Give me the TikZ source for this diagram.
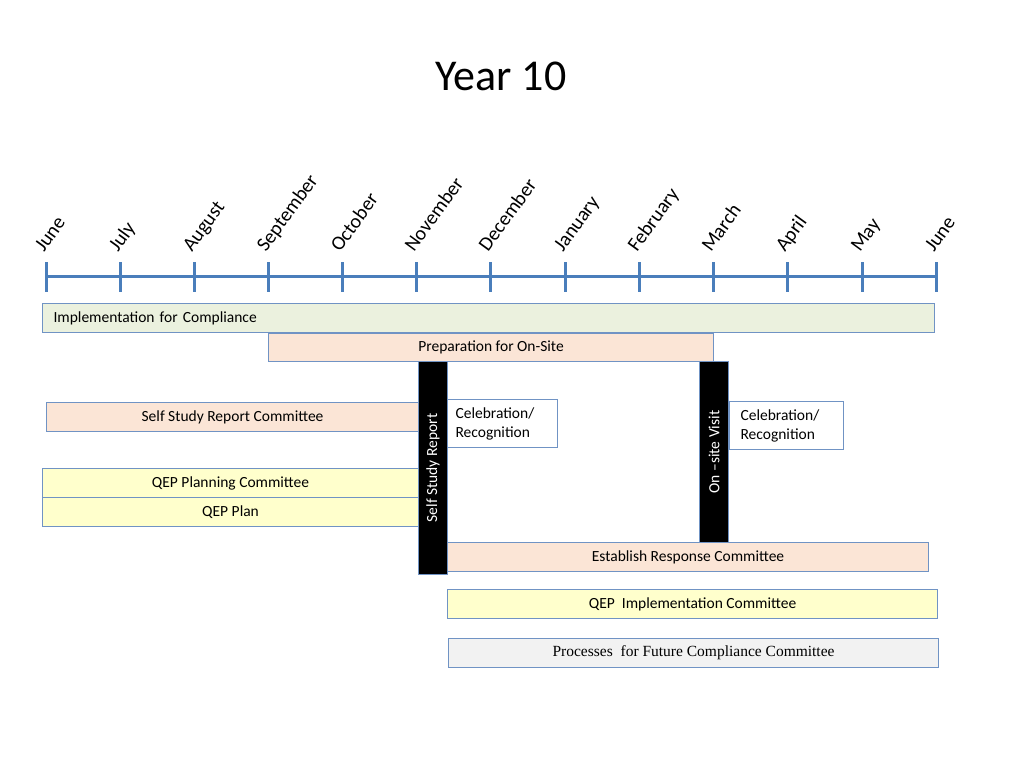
\documentclass[tikz,border=0pt]{standalone}
\usepackage{fontspec}
\setmainfont{Carlito}
\newfontfamily\timesfont{Liberation Serif}
\definecolor{tlblue}{HTML}{4A7EBB}
\definecolor{bdblue}{HTML}{7093C4}
\definecolor{fgreen}{HTML}{EBF1DE}
\definecolor{fpeach}{HTML}{FBE5D6}
\definecolor{fyellow}{HTML}{FFFFCC}
\definecolor{fgrey}{HTML}{F2F2F2}
\begin{document}
\begin{tikzpicture}[x=1pt,y=-1pt,
  tl/.style={draw=tlblue,line width=3pt},
  month/.style={rotate=54,anchor=base west,inner sep=0pt,font=\fontsize{20}{22}\selectfont},
  bar/.style={draw=bdblue,line width=1.1pt,inner sep=0pt,anchor=north west,minimum height=29pt,font=\fontsize{15.5}{18}\selectfont},
  blackbar/.style={draw=bdblue,fill=black,line width=1pt,inner sep=0pt,anchor=north west,minimum width=29pt},
  vtext/.style={rotate=90,text=white,inner sep=0pt,font=\fontsize{15.5}{18}\selectfont},
  celeb/.style={draw=bdblue,fill=white,line width=1.1pt,anchor=north west,align=left,inner ysep=0pt,font=\fontsize{15.5}{19}\selectfont}
]
\useasboundingbox (0,0) rectangle (1024,768);
\fill[white] (0,0) rectangle (1024,768);
% title
\node[font=\fontsize{44}{48}\selectfont] (title) at (501,76) {Year 10};
% timeline
\coordinate (t0) at (46,276);
\coordinate (t12) at (936,276);
\draw[tl] (t0) -- (t12);
\foreach \i/\x/\m in {0/46/June,1/120/July,2/194/August,3/268/September,4/342/October,5/416/November,6/490/December,7/565/January,8/639/February,9/713/March,10/787/April,11/862/May,12/936/June}{
  \draw[tl] (\x,262) -- (\x,292);
  \node[month] (m\i) at (\x-2,253) {\m};
}
% bars
\node[bar,fill=fgreen,minimum width=892pt,text width=870pt,inner xsep=11pt,align=left] (impl) at (42,303) {Implementation for Compliance};
\node[bar,fill=fpeach,minimum width=445pt,minimum height=28pt] (prep) at (268,333) {Preparation for On-Site};
\node[bar,fill=fpeach,minimum width=372pt] (ssrc) at (46,402) {Self Study Report Committee};
\node[bar,fill=fyellow,minimum width=376pt] (qepc) at (42,468) {QEP Planning Committee};
\node[bar,fill=fyellow,minimum width=376pt] (qepp) at (42,497) {QEP Plan};
\node[blackbar,minimum height=213pt] (ssr) at (418,361) {};
\node[vtext] (ssrt) at (ssr.center) {Self Study Report};
\node[celeb,inner xsep=8pt,text width=94pt,minimum height=48pt] (cel1) at (447,399) {Celebration/\\Recognition};
\node[blackbar,minimum height=181pt] (osv) at (699,361) {};
\node[vtext] (osvt) at (osv.center) {On --site Visit};
\node[celeb,inner xsep=11pt,text width=92pt,minimum height=48pt] (cel2) at (729,401) {Celebration/\\Recognition};
\node[bar,fill=fpeach,minimum width=481pt] (erc) at (447,542) {Establish Response Committee};
\node[bar,fill=fyellow,minimum width=490pt] (qepi) at (447,589) {QEP\ \ Implementation Committee};
\node[bar,fill=fgrey,minimum width=490pt,font=\timesfont\fontsize{15.5}{18}\selectfont] (pfcc) at (448,638) {Processes\ \ for Future Compliance Committee};
\end{tikzpicture}
\end{document}
